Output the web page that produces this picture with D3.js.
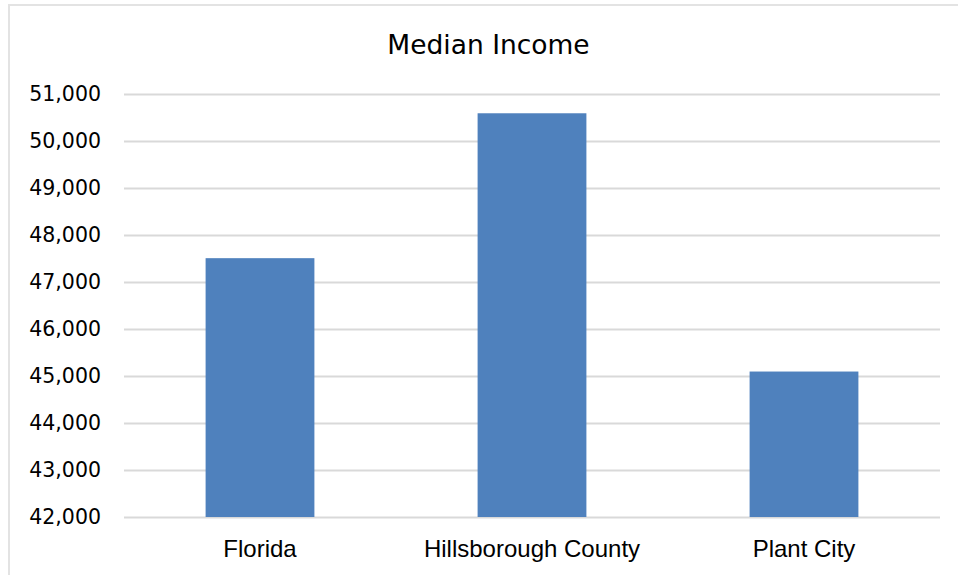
<!DOCTYPE html>
<html>
<head>
<meta charset="utf-8">
<script src="https://cdn.jsdelivr.net/npm/d3@7"></script>
<style>
  html, body { margin: 0; padding: 0; background: #fff; }
  svg { display: block; }
</style>
</head>
<body>
<svg id="chart" width="958" height="575"></svg>
<script>
// Median household income by area
const categories = ["Florida", "Hillsborough County", "Plant City"];
const medianIncome = [47507, 50590, 45095];
const yTicks = [42000, 43000, 44000, 45000, 46000, 47000, 48000, 49000, 50000, 51000];
const chartTitle = "Median Income";

const W = 958, H = 575;
const plot = { left: 124, right: 940, top: 94, bottom: 517 };

const svg = d3.select("#chart");

// outer chart frame
svg.append("rect")
  .attr("x", 9).attr("y", 5)
  .attr("width", W + 20).attr("height", H + 20)
  .attr("fill", "#fff")
  .attr("stroke", "#e3e3e3")
  .attr("stroke-width", 2);

const x = d3.scaleBand()
  .domain(categories)
  .range([plot.left, plot.right])
  .paddingInner(0.6)
  .paddingOuter(0.3);

const y = d3.scaleLinear()
  .domain([42000, 51000])
  .range([plot.bottom, plot.top]);

// horizontal gridlines
const yGrid = d3.axisLeft(y)
  .tickValues(yTicks)
  .tickSize(-(plot.right - plot.left))
  .tickFormat("");
svg.append("g")
  .attr("transform", `translate(${plot.left},0)`)
  .call(yGrid)
  .call(g => g.select(".domain").remove())
  .call(g => g.selectAll("line").attr("stroke", "#d9d9d9").attr("stroke-width", 2));

// bars
svg.append("g")
  .selectAll("rect")
  .data(categories)
  .join("rect")
  .attr("x", d => x(d))
  .attr("width", x.bandwidth())
  .attr("y", (d, i) => y(medianIncome[i]))
  .attr("height", (d, i) => y(42000) - y(medianIncome[i]))
  .attr("fill", "#4f81bd");

// y-axis labels
const yAxis = d3.axisLeft(y)
  .tickValues(yTicks)
  .tickSize(0)
  .tickPadding(23)
  .tickFormat(d3.format(","));
svg.append("g")
  .attr("transform", `translate(${plot.left},0)`)
  .call(yAxis)
  .call(g => g.select(".domain").remove())
  .call(g => g.selectAll("text")
    .attr("fill", "#000")
    .style("font-family", "'DejaVu Sans', Verdana, sans-serif")
    .style("font-size", "20.5px"));

// category labels
const xAxis = d3.axisBottom(x)
  .tickSize(0)
  .tickPadding(23);
svg.append("g")
  .attr("transform", `translate(0,${plot.bottom})`)
  .call(xAxis)
  .call(g => g.select(".domain").remove())
  .call(g => g.selectAll("text")
    .attr("fill", "#000")
    .style("font-family", "'Liberation Sans', Arial, sans-serif")
    .style("font-size", "24px"));

// title
svg.append("text")
  .attr("x", 488.5)
  .attr("y", 54)
  .attr("text-anchor", "middle")
  .attr("fill", "#000")
  .style("font-family", "'DejaVu Sans', Verdana, sans-serif")
  .style("font-size", "26.5px")
  .text(chartTitle);
</script>
</body>
</html>
